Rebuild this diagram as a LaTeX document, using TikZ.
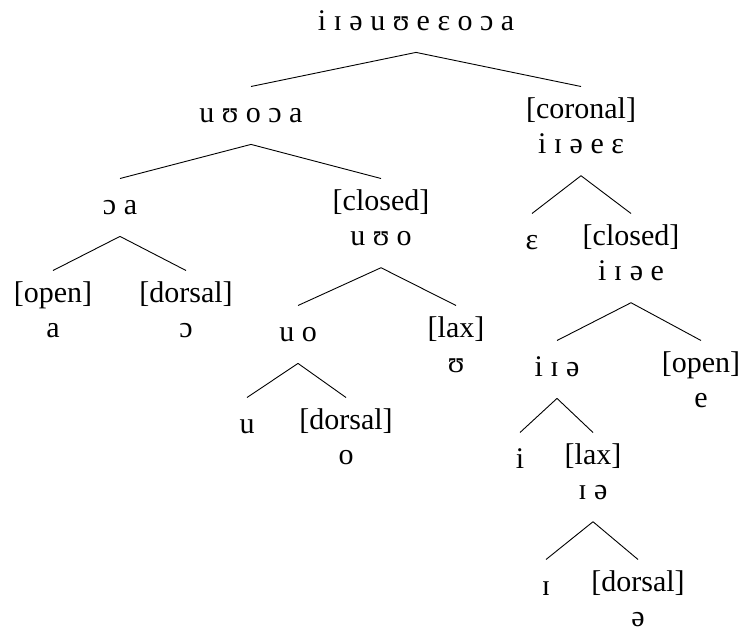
\documentclass[tikz,border=0pt]{standalone}
\usepackage{fontspec}
\setmainfont{Liberation Serif}
\begin{document}
\begin{tikzpicture}[x=1pt, y=-1pt,
                    segment/.style={anchor=north, align=center, inner sep=11pt,
                                    execute at begin node=\strut,
                                    execute at end node=\strut},
                    font=\fontsize{30pt}{35pt}\selectfont,
                    line width=0.9pt]
  \useasboundingbox (0, 0) rectangle (746, 637);

  % Vowel classes.
  \node at (416, -5.5) [segment, name=AllVowels] {i ɪ ə u ʊ e ɛ o ɔ a};
  \node at (251, 86.5) [segment, name=Back] {u ʊ o ɔ a};
  \node at (581, 86.5) [segment, name=Coronal] {[coronal]\\i ɪ ə e ɛ};
  \node at (120, 178.5) [segment, name=LowBack] {ɔ a};
  \node at (381, 178.5) [segment, name=ClosedBack] {[closed]\\u ʊ o};
  \node at (532, 213.5) [segment, name=OpenFront] {ɛ};
  \node at (631, 213.5) [segment, name=ClosedFront] {[closed]\\i ɪ ə e};
  \node at (53, 270.5) [segment, name=OpenBack] {[open]\\a};
  \node at (186, 270.5) [segment, name=DorsalLow] {[dorsal]\\ɔ};
  \node at (298, 305.5) [segment, name=TenseBack] {u o};
  \node at (456, 305.5) [segment, name=LaxBack] {[lax]\\ʊ};
  \node at (557, 340.5) [segment, name=HighFront] {i ɪ ə};
  \node at (701, 340.5) [segment, name=MidFront] {[open]\\e};
  \node at (247, 397.5) [segment, name=HighRound] {u};
  \node at (346, 397.5) [segment, name=MidRound] {[dorsal]\\o};
  \node at (520, 432.5) [segment, name=TenseFront] {i};
  \node at (593, 432.5) [segment, name=LaxFront] {[lax]\\ɪ ə};
  \node at (546, 559.5) [segment, name=LaxCoronal] {ɪ};
  \node at (638, 559.5) [segment, name=Schwa] {[dorsal]\\ə};

  % Branches.
  \draw (AllVowels.south) -- (Back.north);
  \draw (AllVowels.south) -- (Coronal.north);
  \draw (Back.south) -- (LowBack.north);
  \draw (Back.south) -- (ClosedBack.north);
  \draw (Coronal.south) -- (OpenFront.north);
  \draw (Coronal.south) -- (ClosedFront.north);
  \draw (LowBack.south) -- (OpenBack.north);
  \draw (LowBack.south) -- (DorsalLow.north);
  \draw (ClosedBack.south) -- (TenseBack.north);
  \draw (ClosedBack.south) -- (LaxBack.north);
  \draw (ClosedFront.south) -- (HighFront.north);
  \draw (ClosedFront.south) -- (MidFront.north);
  \draw (TenseBack.south) -- (HighRound.north);
  \draw (TenseBack.south) -- (MidRound.north);
  \draw (HighFront.south) -- (TenseFront.north);
  \draw (HighFront.south) -- (LaxFront.north);
  \draw (LaxFront.south) -- (LaxCoronal.north);
  \draw (LaxFront.south) -- (Schwa.north);
\end{tikzpicture}
\end{document}
